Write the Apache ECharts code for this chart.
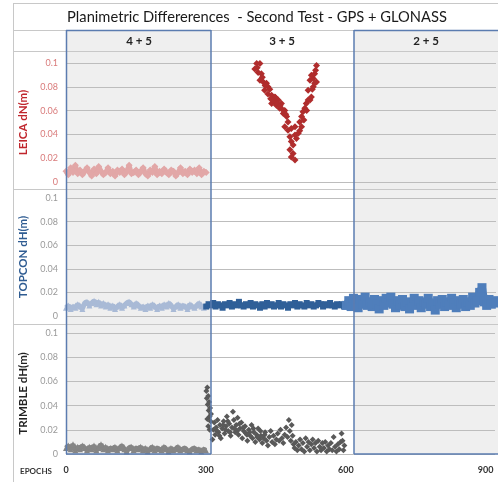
<!DOCTYPE html>
<html><head><meta charset="utf-8">
<script src="https://cdn.jsdelivr.net/npm/echarts@6/dist/echarts.min.js"></script>
<style>html,body{margin:0;padding:0;background:#fff}#c{width:498px;height:482px}</style>
</head><body><div id="c"></div>
<script>
// ---- data ----
const titleText = 'Planimetric Differerences  - Second Test - GPS + GLONASS';
const columnLabels = ['4 + 5', '3 + 5', '2 + 5'];
const panelNames = ['LEICA dN(m)', 'TOPCON dH(m)', 'TRIMBLE dH(m)'];
const xTickLabels = [0, 300, 600, 900];
const yTicks = [0, 0.02, 0.04, 0.06, 0.08, 0.1];

// LEICA, epochs 0..300 step 5
const leicaA = [0.009,0.006,0.012,0.008,0.014,0.007,0.010,0.006,0.009,0.012,
  0.008,0.005,0.011,0.007,0.013,0.009,0.006,0.008,0.012,0.007,
  0.009,0.005,0.010,0.008,0.011,0.006,0.009,0.014,0.007,0.008,
  0.010,0.006,0.009,0.012,0.007,0.005,0.010,0.008,0.013,0.006,
  0.009,0.007,0.011,0.008,0.006,0.010,0.009,0.005,0.008,0.012,
  0.007,0.009,0.006,0.011,0.008,0.010,0.007,0.012,0.006,0.009,0.008];
// LEICA, 3+5 scatter [epoch, value]
const leicaB = [[408,0.0995],[415,0.0995],[404,0.095],[411,0.092],[418,0.091],[415,0.0855],[422,0.084],
  [429,0.083],[432,0.080],[425,0.077],[432,0.074],[440,0.073],[447,0.0715],[443,0.069],[454,0.069],
  [440,0.066],[450,0.0645],[461,0.066],[457,0.062],[468,0.060],[465,0.0575],[472,0.055],[475,0.0505],
  [468,0.0465],[475,0.0435],[482,0.045],[490,0.0465],[479,0.038],[490,0.0395],[493,0.0365],[482,0.034],
  [486,0.031],[479,0.027],[486,0.024],[482,0.021],[490,0.0185],[436,0.078],[445,0.068],[452,0.066],
  [458,0.064],[448,0.071],[463,0.061],[470,0.057],[438,0.070],[426,0.081],[420,0.088],[409,0.096],
  [500,0.0505],[504,0.055],[507,0.059],[511,0.062],[514,0.066],[518,0.069],[522,0.069],[525,0.0715],
  [518,0.077],[529,0.080],[532,0.083],[522,0.0855],[529,0.087],[536,0.084],[525,0.0897],[532,0.091],
  [536,0.098],[504,0.0465],[497,0.041],[500,0.043],[509,0.052],[515,0.060],[527,0.078],[534,0.094]];

// TOPCON, epochs 0..300 step 5
const topconA = [0.007,0.009,0.006,0.008,0.007,0.010,0.008,0.006,0.011,0.012,
  0.009,0.011,0.013,0.010,0.012,0.009,0.011,0.008,0.010,0.007,
  0.009,0.006,0.008,0.010,0.007,0.009,0.011,0.012,0.010,0.008,
  0.011,0.009,0.007,0.008,0.006,0.009,0.007,0.010,0.008,0.006,
  0.009,0.007,0.010,0.008,0.011,0.009,0.006,0.008,0.010,0.007,
  0.009,0.008,0.006,0.010,0.008,0.007,0.009,0.011,0.008,0.007,0.009];
// TOPCON, epochs 300..600 step 5
const topconB = [0.008,0.010,0.009,0.011,0.008,0.010,0.009,0.007,0.010,0.009,
  0.011,0.008,0.010,0.009,0.012,0.009,0.008,0.010,0.009,0.011,
  0.008,0.010,0.009,0.007,0.010,0.008,0.011,0.009,0.010,0.008,
  0.009,0.011,0.008,0.010,0.009,0.007,0.010,0.009,0.011,0.008,
  0.010,0.009,0.008,0.011,0.009,0.010,0.008,0.009,0.011,0.010,
  0.008,0.010,0.009,0.011,0.009,0.008,0.010,0.009,0.010,0.008,0.009];
// TOPCON, epochs 600..920 step 5
const topconC = [0.009,0.013,0.008,0.015,0.011,0.007,0.014,0.010,0.016,0.009,
  0.012,0.008,0.014,0.010,0.006,0.013,0.009,0.015,0.011,0.016,
  0.010,0.007,0.013,0.009,0.014,0.008,0.012,0.006,0.011,0.015,
  0.009,0.013,0.007,0.012,0.010,0.015,0.008,0.011,0.005,0.013,
  0.010,0.014,0.008,0.012,0.009,0.015,0.011,0.007,0.013,0.010,
  0.014,0.008,0.012,0.009,0.016,0.011,0.013,0.020,0.024,0.012,
  0.009,0.014,0.010,0.013,0.011];

// TRIMBLE, epochs 0..300 step 5
const trimbleA = [0.005,0.007,0.004,0.008,0.003,0.006,0.004,0.007,0.005,0.003,
  0.006,0.004,0.007,0.003,0.005,0.008,0.004,0.006,0.003,0.005,
  0.004,0.006,0.003,0.005,0.007,0.004,0.002,0.005,0.006,0.003,
  0.005,0.004,0.006,0.003,0.005,0.002,0.004,0.006,0.003,0.005,
  0.004,0.003,0.006,0.004,0.002,0.005,0.003,0.004,0.006,0.003,
  0.004,0.005,0.003,0.002,0.004,0.005,0.003,0.004,0.002,0.004,0.003];
// TRIMBLE, 3+5 scatter [epoch, value]
const trimbleB = [[301,0.052],[302,0.046],[303,0.055],[304,0.041],[305,0.048],[306,0.036],[307,0.043],
  [308,0.031],[309,0.038],[310,0.027],[311,0.033],[305,0.023],[308,0.020],[303,0.029],
  [314,0.012],[316,0.020],[318,0.026],[320,0.016],[322,0.022],[325,0.028],[327,0.018],[330,0.024],
  [332,0.013],[335,0.021],[338,0.027],[340,0.017],[343,0.023],[345,0.031],[348,0.019],[350,0.025],
  [353,0.015],[356,0.022],[358,0.035],[360,0.028],[363,0.018],[365,0.024],[368,0.030],[370,0.016],
  [373,0.021],[376,0.026],[378,0.013],[381,0.019],[384,0.023],[386,0.017],[389,0.011],[392,0.020],
  [395,0.015],[398,0.024],[400,0.013],[403,0.018],[406,0.010],[409,0.016],[412,0.021],[415,0.012],
  [418,0.015],[421,0.009],[424,0.013],[427,0.018],[430,0.011],[433,0.007],[436,0.014],[439,0.019],
  [442,0.010],[445,0.015],[448,0.008],[451,0.012],[454,0.017],[457,0.011],[460,0.020],[463,0.013],
  [466,0.009],[469,0.016],[472,0.022],[475,0.014],[478,0.028],[480,0.019],[482,0.011],[484,0.024],
  [486,0.015],[488,0.008],[490,0.005],[493,0.010],[496,0.003],[499,0.007],[502,0.012],[505,0.004],
  [508,0.009],[511,0.002],[514,0.013],[517,0.006],[520,0.010],[523,0.003],[526,0.008],[529,0.012],
  [532,0.005],[535,0.009],[538,0.002],[541,0.011],[544,0.006],[547,0.003],[550,0.009],[553,0.005],
  [556,0.010],[559,0.002],[562,0.007],[565,0.004],[568,0.009],[571,0.003],[574,0.014],[577,0.006],
  [580,0.002],[583,0.008],[586,0.004],[589,0.010],[591,0.017],[593,0.011],[595,0.003],[597,0.007],
  [324,0.019],[329,0.015],[337,0.024],[342,0.020],[347,0.027],[352,0.018],[361,0.021],[367,0.019],
  [372,0.025],[380,0.022],[388,0.016],[394,0.018],[402,0.021],[410,0.014],[417,0.019],[426,0.016]];

// ---- build ----
function pairs(vals, start, step){ return vals.map((v,i)=>[start+i*step, v]); }

const FONT = 'Lato';
const chart = echarts.init(document.getElementById('c'));

const grids = [
  {left:66, width:430, top:63, height:119},
  {left:66, width:430, top:198, height:118},
  {left:66, width:430, top:333, height:121}
];
const labelColors = ['#d97b7b', '#9a9a9a', '#9a9a9a'];
const nameColors = ['#c0262d', '#2f5c92', '#222222'];

const xAxes = grids.map((g,i)=>({
  gridIndex:i, type:'value', min:0, max:920, interval:300,
  axisLine:{show:false}, axisTick:{show:false}, splitLine:{show:false},
  axisLabel:{show:i===2, fontFamily:FONT, fontSize:9, color:'#333', fontWeight:'bold', margin:12,
    formatter:v=> xTickLabels.indexOf(v)>=0 ? String(v) : ''}
}));
const yAxes = grids.map((g,i)=>({
  gridIndex:i, type:'value', min:0, max:0.1, interval:0.02,
  name:panelNames[i], nameLocation:'middle', nameGap:36, nameRotate:90,
  nameTextStyle:{fontFamily:FONT, fontSize:11.5, fontWeight:'bold', color:nameColors[i]},
  axisLine:{show:false}, axisTick:{show:false},
  splitLine:{show:true, lineStyle:{color:'#bdbdbd', width:1}},
  axisLabel:{fontFamily:FONT, fontSize:9, color:labelColors[i], margin:8,
    formatter:v=>{ const s = yTicks.find(t=>Math.abs(t-v)<1e-9); return s===undefined? '' : String(+s.toFixed(2)); }}
}));

function band(data, idx, color, symbol, size, width){
  return {type:'line', xAxisIndex:idx, yAxisIndex:idx, data:data, color:color,
    symbol:symbol, symbolSize:size, showAllSymbol:true, animation:false,
    lineStyle:{color:color, width:width}, itemStyle:{color:color}, z:3};
}
function dots(data, idx, color, symbol, size){
  return {type:'scatter', xAxisIndex:idx, yAxisIndex:idx, data:data, symbol:symbol,
    symbolSize:size, itemStyle:{color:color, opacity:1}, animation:false, z:4};
}

const series = [
  band(pairs(leicaA,0,5), 0, '#e2a7a7', 'diamond', 7, 5),
  dots(leicaB, 0, '#b02d2d', 'diamond', 7),
  band(pairs(topconA,0,5), 1, '#a9bad6', 'triangle', 6, 5),
  band(pairs(topconB,300,5), 1, '#2f5f98', 'rect', 6, 5),
  band(pairs(topconC,600,5), 1, '#4f7ebb', 'rect', 9, 8),
  band(pairs(trimbleA,0,5), 2, '#858585', 'triangle', 6, 5),
  dots(trimbleB, 2, '#595959', 'diamond', 6)
];

const grayLine = '#c8c8c8', blueLine = '#5b7cb0';
function hl(y,x1,x2,c,w){ return {type:'line', shape:{x1:x1,y1:y,x2:x2,y2:y}, style:{stroke:c, lineWidth:w||1}, z:50}; }
function vl(x,y1,y2,c,w){ return {type:'line', shape:{x1:x,y1:y1,x2:x,y2:y2}, style:{stroke:c, lineWidth:w||1}, z:50}; }
function txt(x,y,t,size,weight,color){ return {type:'text', x:x, y:y, style:{text:t, fontFamily:FONT, fontSize:size, fontWeight:weight, fill:color, textAlign:'center', textVerticalAlign:'middle'}, z:60}; }

const graphic = [
  {type:'rect', shape:{x:66,y:30,width:145,height:424}, style:{fill:'#efefef'}, z:-10},
  {type:'rect', shape:{x:354,y:30,width:144,height:424}, style:{fill:'#efefef'}, z:-10},
  hl(3.5,13,498,grayLine), hl(30.5,13,498,grayLine), hl(51.5,13,498,grayLine),
  hl(189.5,13,498,grayLine), hl(324.5,13,498,grayLine),
  vl(13.5,3,482,grayLine),
  hl(30.5,66,211,blueLine,1.5), hl(30.5,354,498,blueLine,1.5),
  hl(454,66,211,blueLine,1.5), hl(454,354,498,blueLine,1.5),
  vl(66.5,30,454,blueLine,1.5), vl(211,30,454,blueLine,1.5), vl(354,30,454,blueLine,1.5),
  txt(257,17,titleText,14.7,'normal','#1a1a1a'),
  txt(139,41,columnLabels[0],11.5,'bold','#222'),
  txt(282,41,columnLabels[1],11.5,'bold','#222'),
  txt(426,41,columnLabels[2],11.5,'bold','#222'),
  txt(36,471,'EPOCHS',8,'bold','#333')
];

chart.setOption({
  animation:false,
  backgroundColor:'#ffffff',
  grid:grids,
  xAxis:xAxes,
  yAxis:yAxes,
  series:series,
  graphic:{elements:graphic}
});
</script></body></html>
